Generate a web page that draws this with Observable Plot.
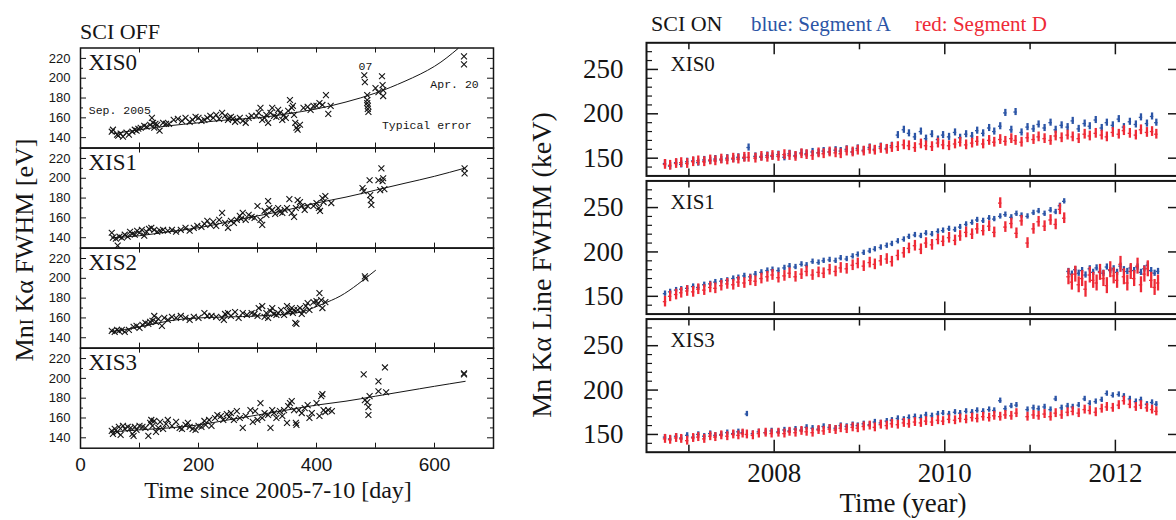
<!DOCTYPE html>
<html><head><meta charset="utf-8">
<script src="https://cdn.jsdelivr.net/npm/d3@7"></script>
<script src="https://cdn.jsdelivr.net/npm/@observablehq/plot@0.6"></script>
<style>
body{margin:0;background:#fff}
#root{position:relative;width:1176px;height:520px;overflow:hidden;background:#fff}
#root svg{position:absolute;overflow:visible}
</style></head><body><div id="root"></div>
<script>
// ---------------- LEFT: SCI OFF (day, FWHM eV) ----------------
const detOff = ["XIS0", "XIS1", "XIS2", "XIS3"];
const offXTicks = [0, 200, 400, 600];
const offYTicks = [140, 160, 180, 200, 220];
const offYMinor = [150, 170, 190, 210];
const offXMinor = [100, 200, 300, 400, 500, 600];

const xis0Off = [[53,146],[55,148],[62,143],[64,142],[68,144],[72,141],[78,145],[82,143],[88,146],[92,148],[95,147],[98,149],[102,150],[108,152],[112,151],[118,153],[121,160],[123,155],[125,150],[127,154],[130,153],[134,147],[140,155],[145,154],[150,154],[158,158],[165,159],[172,157],[178,160],[185,156],[190,158],[195,161],[200,160],[205,157],[210,158],[215,160],[220,162],[225,160],[230,163],[235,159],[240,165],[245,162],[250,158],[252,160],[255,161],[258,159],[262,156],[265,158],[270,160],[275,157],[280,155],[285,160],[290,162],[298,162],[302,165],[305,170],[308,158],[312,160],[315,163],[318,155],[322,165],[325,170],[328,162],[332,161],[335,168],[338,165],[342,158],[345,163],[348,160],[352,167],[355,178],[358,170],[360,172],[362,163],[364,155],[366,150],[368,148],[372,153],[378,170],[385,171],[390,168],[395,172],[400,172],[405,175],[410,173],[416,183],[420,164],[424,172],[481,203],[482,196],[486,183],[486,178],[486,175],[487,172],[487,169],[488,166],[500,190],[505,186],[511,202],[512,193],[513,188],[513,182],[650,222],[650,214]];
const xis1Off = [[53,145],[55,140],[60,139],[63,132],[66,141],[70,140],[75,143],[80,141],[84,146],[88,144],[92,143],[96,147],[100,145],[104,148],[108,142],[112,146],[116,149],[120,150],[125,148],[130,146],[135,147],[140,148],[148,147],[155,148],[162,146],[170,148],[178,150],[185,147],[192,150],[198,152],[205,151],[210,154],[215,157],[220,153],[225,156],[230,152],[235,158],[240,165],[245,155],[250,150],[255,157],[260,155],[265,158],[270,162],[272,159],[275,165],[280,158],[285,163],[290,161],[295,160],[300,172],[305,158],[308,153],[312,167],[315,163],[318,177],[320,170],[325,168],[330,164],[335,170],[338,166],[342,165],[346,168],[350,170],[354,179],[358,165],[362,161],[365,170],[368,178],[372,176],[375,172],[380,168],[385,172],[395,172],[400,175],[404,170],[406,167],[410,180],[412,176],[415,182],[425,175],[478,190],[480,187],[490,198],[491,183],[492,178],[493,173],[505,198],[508,188],[510,210],[512,197],[513,200],[515,189],[651,210],[651,205]];
const xis2Off = [[53,147],[58,146],[62,148],[65,147],[70,148],[75,146],[82,148],[90,151],[95,152],[100,150],[105,153],[110,155],[115,154],[118,156],[122,157],[125,162],[128,156],[132,159],[138,152],[142,160],[148,158],[155,161],[162,160],[170,162],[178,160],[185,158],[192,161],[200,160],[210,165],[215,162],[222,162],[230,161],[240,160],[243,158],[245,164],[250,165],[255,162],[262,166],[268,160],[275,165],[282,163],[290,165],[295,164],[300,162],[302,170],[308,172],[312,161],[315,165],[318,160],[322,167],[325,170],[328,164],[332,163],[335,165],[340,168],[345,163],[350,172],[352,166],[355,167],[358,170],[360,165],[362,168],[364,155],[366,154],[368,168],[372,170],[375,164],[378,167],[382,172],[385,175],[388,168],[395,176],[400,177],[402,174],[405,185],[408,178],[410,170],[415,176],[482,202],[483,200]];
const xis3Off = [[53,147],[55,144],[58,149],[62,146],[65,151],[68,143],[72,152],[75,149],[80,151],[85,150],[88,144],[90,142],[92,151],[95,148],[100,152],[105,151],[110,150],[115,142],[118,155],[120,158],[122,152],[125,157],[128,146],[132,150],[135,156],[140,149],[145,154],[148,158],[155,152],[162,156],[168,150],[172,149],[178,153],[182,155],[185,151],[190,149],[195,148],[200,152],[205,151],[210,157],[212,153],[218,158],[222,152],[228,160],[232,163],[238,162],[242,158],[248,164],[252,161],[255,165],[260,158],[265,167],[270,160],[275,150],[280,162],[288,168],[292,156],[296,167],[300,158],[305,175],[308,160],[312,165],[318,163],[322,150],[325,168],[328,165],[332,160],[338,167],[342,162],[345,168],[350,155],[352,172],[355,175],[358,177],[362,168],[365,155],[366,153],[370,168],[375,165],[380,170],[385,173],[388,160],[392,165],[400,175],[405,162],[408,182],[410,184],[412,168],[415,166],[420,168],[426,167],[480,204],[482,178],[486,176],[488,171],[488,163],[490,182],[505,197],[505,187],[516,211],[518,186],[650,205],[650,204]];

const fit0 = [[55,144],[100,148],[150,152],[200,155],[250,158],[300,160],[350,164],[400,169],[450,176],[500,185],[550,197],[600,212],[640,230]];
const fit1 = [[53,140],[100,142],[150,146],[200,150],[250,156],[300,162],[350,168],[400,175],[450,181],[500,188],[550,195],[600,202],[650,210]];
const fit2 = [[50,146],[100,151],[150,157],[200,160],[250,161],[300,162],[350,164],[380,167],[410,174],[440,182],[470,194],[500,208]];
const fit3 = [[53,146],[100,148],[150,150],[200,153],[250,158],[300,163],[350,168],[400,173],[450,177],[500,182],[550,187],[600,192],[652,197]];

// ---------------- RIGHT: SCI ON (year, FWHM) ----------------
const detOn = ["XIS0", "XIS1", "XIS3"];
const onXTicks = [2008, 2010, 2012];
const onXMinor = [2007, 2009, 2011];
const onYTicks = [150, 200, 250];
const onYMinor = [140, 160, 170, 180, 190, 210, 220, 230, 240, 260, 270];

const t0 = [2006.72,2006.78,2006.85,2006.91,2006.98,2007.05,2007.11,2007.18,2007.25,2007.31,
2007.38,2007.45,2007.52,2007.58,2007.65,2007.70,2007.78,2007.85,2007.92,2007.98,
2008.05,2008.12,2008.18,2008.25,2008.32,2008.38,2008.45,2008.52,2008.58,2008.65,
2008.72,2008.78,2008.85,2008.92,2008.98,2009.05,2009.12,2009.18,2009.25,2009.32,
2009.38,2009.45,2009.52,2009.58,2009.65,2009.72,2009.78,2009.85,2009.92,2009.98,
2010.05,2010.12,2010.18,2010.25,2010.32,2010.38,2010.45,2010.52,2010.58,2010.65,
2010.71,2010.78,2010.83,2010.90,2010.97,2011.04,2011.10,2011.17,2011.24,2011.30,
2011.37,2011.44,2011.50,2011.57,2011.64,2011.70,2011.77,2011.84,2011.90,2011.97,
2012.04,2012.10,2012.17,2012.24,2012.30,2012.37,2012.43,2012.48];
const a0 = [144,141,145,143,146,147,145,148,147,149,
148,150,149,151,150,162,152,151,153,152,
154,151,155,153,156,155,157,156,158,157,
159,158,160,157,161,159,162,160,163,161,
164,176,182,178,174,180,172,177,171,176,
174,179,173,177,175,181,178,184,180,186,
201,182,202,179,185,183,188,184,190,182,
187,185,192,183,189,186,193,184,190,187,
194,185,191,188,196,189,197,190];
const d0 = [143,142,144,145,144,146,147,146,148,147,
149,148,150,149,151,151,150,152,151,153,
152,154,153,152,155,154,153,156,155,157,
156,155,158,157,159,158,160,159,161,160,
162,163,165,164,162,166,164,163,167,165,
164,166,168,165,167,169,166,170,168,171,
169,172,170,168,173,171,174,172,170,175,
173,176,174,172,177,175,178,176,174,179,
177,181,178,176,182,179,180,177];

const t1a = [2006.72,2006.78,2006.85,2006.91,2006.98,2007.05,2007.11,2007.18,2007.25,2007.31,
2007.38,2007.45,2007.52,2007.58,2007.65,2007.72,2007.78,2007.85,2007.92,2007.98,
2008.05,2008.12,2008.18,2008.25,2008.32,2008.38,2008.45,2008.52,2008.58,2008.65,
2008.72,2008.78,2008.85,2008.92,2008.98,2009.05,2009.12,2009.18,2009.25,2009.32,
2009.38,2009.45,2009.52,2009.58,2009.65,2009.72,2009.78,2009.85,2009.92,2009.98,
2010.05,2010.12,2010.18,2010.25,2010.32,2010.38,2010.45,2010.52,2010.58,2010.65,
2010.71,2010.78,2010.84,2010.90,2010.97,2011.04,2011.10,2011.17,2011.24,2011.30,
2011.35,2011.40];
const a1a = [153,155,157,158,159,161,160,163,164,166,
167,168,170,171,173,172,175,177,179,180,
179,182,184,183,186,185,189,188,190,191,
190,193,192,195,197,199,201,203,205,207,
209,212,214,217,219,218,221,220,223,224,
226,225,228,231,233,236,235,238,237,240,
242,239,243,241,240,244,246,243,247,245,
252,257];
const d1a = [144,150,152,154,156,155,158,157,160,159,
162,164,163,166,165,168,167,170,172,174,
171,173,176,172,175,178,174,177,176,180,
178,182,181,185,187,184,188,186,190,192,
189,196,199,204,207,203,210,208,214,212,
216,213,218,222,220,226,224,229,222,255,
228,232,221,235,210,226,234,229,236,231,
248,238];
const t1b = [2011.45,2011.49,2011.53,2011.57,2011.61,2011.65,2011.70,2011.74,2011.78,2011.82,
2011.86,2011.90,2011.94,2011.98,2012.02,2012.06,2012.10,2012.14,2012.18,2012.22,
2012.26,2012.30,2012.34,2012.38,2012.42,2012.46,2012.50];
const a1b = [178,175,180,176,179,174,181,177,182,178,176,183,179,181,177,184,180,178,182,179,183,177,181,185,179,176,178];
const d1b = [172,166,175,163,170,158,174,168,165,177,170,162,180,173,168,186,172,165,178,170,184,163,175,181,168,160,165];

const t3 = [2006.72,2006.78,2006.85,2006.91,2006.98,2007.05,2007.11,2007.18,2007.25,2007.31,
2007.38,2007.45,2007.52,2007.58,2007.63,2007.68,2007.75,2007.82,2007.90,2007.97,
2008.05,2008.12,2008.18,2008.25,2008.32,2008.38,2008.45,2008.52,2008.58,2008.65,
2008.72,2008.78,2008.85,2008.92,2008.98,2009.05,2009.12,2009.18,2009.25,2009.32,
2009.38,2009.45,2009.52,2009.58,2009.65,2009.72,2009.78,2009.85,2009.92,2009.98,
2010.05,2010.12,2010.18,2010.25,2010.32,2010.38,2010.45,2010.52,2010.58,2010.65,
2010.71,2010.78,2010.84,2010.97,2011.04,2011.10,2011.17,2011.24,2011.30,2011.37,
2011.44,2011.50,2011.57,2011.64,2011.70,2011.77,2011.84,2011.90,2011.97,2012.04,
2012.10,2012.17,2012.24,2012.30,2012.37,2012.43,2012.48];
const a3 = [147,145,148,146,149,147,150,148,151,149,
150,152,151,153,152,173,151,153,152,154,
153,155,154,156,155,158,157,156,159,158,
157,160,159,161,160,162,161,164,163,165,
166,168,167,169,170,169,172,171,173,174,
173,175,174,176,175,177,176,178,177,188,
179,182,183,178,180,179,181,178,190,180,
182,181,183,190,185,187,189,196,194,195,
193,190,187,189,184,186,184];
const d3 = [145,144,146,145,143,146,147,145,148,147,
149,148,150,149,151,150,149,151,152,151,
152,151,153,152,154,153,152,155,154,156,
155,157,156,158,157,159,160,158,161,160,
162,161,163,162,164,163,165,164,166,165,
167,166,168,167,169,168,170,169,171,170,
172,171,174,170,172,171,173,170,174,172,
175,176,174,178,177,175,179,181,180,183,
188,184,181,183,180,178,176];

// error half-widths (keV) per series
const errA0 = 4, errD0 = 5.5, errA1a = 3, errD1a = 6, errA1b = 3.5, errD1b = 9, errA3 = 3, errD3 = 5;

// ---------------- build tables ----------------
const offTable = [["XIS0", xis0Off], ["XIS1", xis1Off], ["XIS2", xis2Off], ["XIS3", xis3Off]]
  .flatMap(([det, arr]) => arr.map(([day, fwhm]) => ({det, day, fwhm})));
const fitTable = [["XIS0", fit0], ["XIS1", fit1], ["XIS2", fit2], ["XIS3", fit3]]
  .flatMap(([det, arr]) => arr.map(([day, fwhm]) => ({det, day, fwhm})));
const seg = (det, times, vals, err) => times.map((t, i) => ({det, t, v: vals[i], err})).filter(d => d.v != null);
const segA = [...seg("XIS0", t0, a0, errA0), ...seg("XIS1", t1a, a1a, errA1a), ...seg("XIS1", t1b, a1b, errA1b), ...seg("XIS3", t3, a3, errA3)];
const segD = [...seg("XIS0", t0, d0, errD0), ...seg("XIS1", t1a, d1a, errD1a), ...seg("XIS1", t1b, d1b, errD1b), ...seg("XIS3", t3, d3, errD3)];

const BLUE = "#2c55a6", RED = "#ee2a36", INK = "#151515";
const root = document.getElementById("root");

// ---------------- left plot ----------------
const LW = 500, LML = 80, LMR = 7, LMT = 47.5, LMB = 72.3;
const lfw = LW - LML - LMR;
const lfh = (520 - LMT - LMB) / 4;
const mono = "'Liberation Mono', 'DejaVu Sans Mono', monospace";
const serif = "'Liberation Serif', 'Times New Roman', serif";
const leftPlot = Plot.plot({
  width: LW, height: 520, marginLeft: LML, marginRight: LMR, marginTop: LMT, marginBottom: LMB,
  x: {domain: [0, 700], axis: null},
  y: {domain: [129.5, 230.5], axis: null},
  fy: {domain: detOff, padding: 0, axis: null, round: false},
  style: {fontFamily: "'Liberation Sans', Arial, sans-serif", background: "transparent", overflow: "visible", color: INK},
  marks: [
    Plot.line(fitTable, {x: "day", y: "fwhm", fy: "det", curve: "natural", stroke: INK, strokeWidth: 1}),
    Plot.dot(offTable, {x: "day", y: "fwhm", fy: "det", symbol: "times", r: 2.8, stroke: INK, strokeWidth: 1.1}),
    Plot.tickY(offYTicks, {y: d => d, insetRight: lfw - 6, stroke: INK}),
    Plot.tickY(offYMinor, {y: d => d, insetRight: lfw - 3, stroke: INK}),
    Plot.tickY(offYTicks, {y: d => d, insetLeft: lfw - 6, stroke: INK}),
    Plot.tickY(offYMinor, {y: d => d, insetLeft: lfw - 3, stroke: INK}),
    Plot.tickX(offXMinor, {x: d => d, insetBottom: lfh - 5, stroke: INK}),
    Plot.tickX(offXMinor, {x: d => d, insetTop: lfh - 5, stroke: INK}),
    Plot.frame({stroke: INK, strokeWidth: 1.5}),
    Plot.text(detOff, {fy: d => d, text: d => d, frameAnchor: "top-left", lineAnchor: "top", dx: 8, dy: 6, fontSize: 23, fontFamily: serif, fill: INK}),
    Plot.text(["Sep. 2005"], {fy: () => "XIS0", x: 14, y: 167.4, text: d => d, textAnchor: "start", fontSize: 11.5, fontFamily: mono, fill: INK}),
    Plot.text(["07"], {fy: () => "XIS0", x: 483, y: 211.8, text: d => d, fontSize: 11.5, fontFamily: mono, fill: INK}),
    Plot.text(["Apr. 20"], {fy: () => "XIS0", x: 593, y: 194.3, text: d => d, textAnchor: "start", fontSize: 11.5, fontFamily: mono, fill: INK}),
    Plot.text(["Typical error"], {fy: () => "XIS0", x: 663, y: 152.2, text: d => d, textAnchor: "end", fontSize: 11.5, fontFamily: mono, fill: INK}),
    Plot.axisY({ticks: offYTicks, tickSize: 0, tickPadding: 10, fontSize: 13, label: null}),
    Plot.axisX({ticks: offXTicks, tickSize: 0, tickPadding: 9, fontSize: 19, label: null})
  ]
});
leftPlot.style.left = "0px"; leftPlot.style.top = "0px";
root.appendChild(leftPlot);

// ---------------- right plot ----------------
const RW = 660, RML = 126, RMR = 2, RMT = 42.3, RMB = 68.3, GAP = 5;
const rfw = RW - RML - RMR;
const rfh = (520 - RMT - RMB - 2 * GAP) / 3;
const pin = GAP / (rfh + GAP);
const rightPlot = Plot.plot({
  width: RW, height: 520, marginLeft: RML, marginRight: RMR, marginTop: RMT, marginBottom: RMB,
  x: {domain: [2006.503, 2012.74], axis: null},
  y: {domain: [130, 280], axis: null},
  fy: {domain: detOn, paddingInner: pin, paddingOuter: 0, axis: null, round: false},
  style: {fontFamily: serif, background: "transparent", overflow: "visible", color: INK},
  marks: [
    Plot.ruleX(segA, {x: "t", y1: d => d.v - d.err, y2: d => d.v + d.err, fy: "det", stroke: BLUE, strokeWidth: 2.3}),
    Plot.ruleY(segA, {y: "v", x1: d => d.t - 0.02, x2: d => d.t + 0.02, fy: "det", stroke: BLUE, strokeWidth: 1.3}),
    Plot.ruleX(segD, {x: "t", y1: d => d.v - d.err, y2: d => d.v + d.err, fy: "det", stroke: RED, strokeWidth: 2.3}),
    Plot.ruleY(segD, {y: "v", x1: d => d.t - 0.02, x2: d => d.t + 0.02, fy: "det", stroke: RED, strokeWidth: 1.3}),
    Plot.tickY(onYTicks, {y: d => d, insetRight: rfw - 12, stroke: INK, strokeWidth: 1.5}),
    Plot.tickY(onYMinor, {y: d => d, insetRight: rfw - 6, stroke: INK, strokeWidth: 1.2}),
    Plot.tickY(onYTicks, {y: d => d, insetLeft: rfw - 10, stroke: INK, strokeWidth: 1.5}),
    Plot.tickX(onXTicks, {x: d => d, insetBottom: rfh - 12, stroke: INK, strokeWidth: 1.5}),
    Plot.tickX(onXTicks, {x: d => d, insetTop: rfh - 12, stroke: INK, strokeWidth: 1.5}),
    Plot.tickX(onXMinor, {x: d => d, insetBottom: rfh - 7, stroke: INK, strokeWidth: 1.5}),
    Plot.tickX(onXMinor, {x: d => d, insetTop: rfh - 7, stroke: INK, strokeWidth: 1.5}),
    Plot.frame({stroke: INK, strokeWidth: 2}),
    Plot.text(detOn, {fy: d => d, text: d => d, frameAnchor: "top-left", lineAnchor: "top", dx: 24, dy: 13.5, fontSize: 21, fill: INK}),
    Plot.axisY({ticks: onYTicks, tickSize: 0, tickPadding: 23, fontSize: 27, label: null}),
    Plot.axisX({ticks: onXTicks, tickSize: 0, tickPadding: 11, fontSize: 27, label: null, tickFormat: d => String(d)})
  ]
});
rightPlot.style.left = "520px"; rightPlot.style.top = "0px";
root.appendChild(rightPlot);

// ---------------- titles, legend and axis titles ----------------
const NS = "http://www.w3.org/2000/svg";
const ov = document.createElementNS(NS, "svg");
ov.setAttribute("width", 1176); ov.setAttribute("height", 520);
ov.style.left = "0px"; ov.style.top = "0px"; ov.style.pointerEvents = "none";
function el(parent, tag, attrs, text) {
  const e = document.createElementNS(NS, tag);
  for (const k in attrs) e.setAttribute(k, attrs[k]);
  if (text != null) e.textContent = text;
  parent.appendChild(e);
  return e;
}
const txt = (x, y, s, size, fill = INK, anchor = "start") =>
  el(ov, "text", {x, y, "font-size": size, "font-family": serif, fill, "text-anchor": anchor}, s);
txt(80, 39, "SCI OFF", 22);
txt(651, 31, "SCI ON", 22);
txt(751, 31, "blue: Segment A", 21, BLUE);
txt(915, 31, "red: Segment D", 21, RED);
txt(278, 498, "Time since 2005-7-10 [day]", 24, INK, "middle");
txt(903, 512, "Time (year)", 27, INK, "middle");
const yl = el(ov, "text", {transform: "translate(33,250) rotate(-90)", "text-anchor": "middle", "font-size": 26, "font-family": serif, fill: INK});
el(yl, "tspan", {}, "Mn");
el(yl, "tspan", {"font-size": 19}, "I");
el(yl, "tspan", {}, " Kα FWHM [eV]");
el(ov, "text", {transform: "translate(551,265) rotate(-90)", "text-anchor": "middle", "font-size": 28, "font-family": serif, fill: INK}, "Mn Kα Line FWHM (keV)");
root.appendChild(ov);
</script></body></html>
